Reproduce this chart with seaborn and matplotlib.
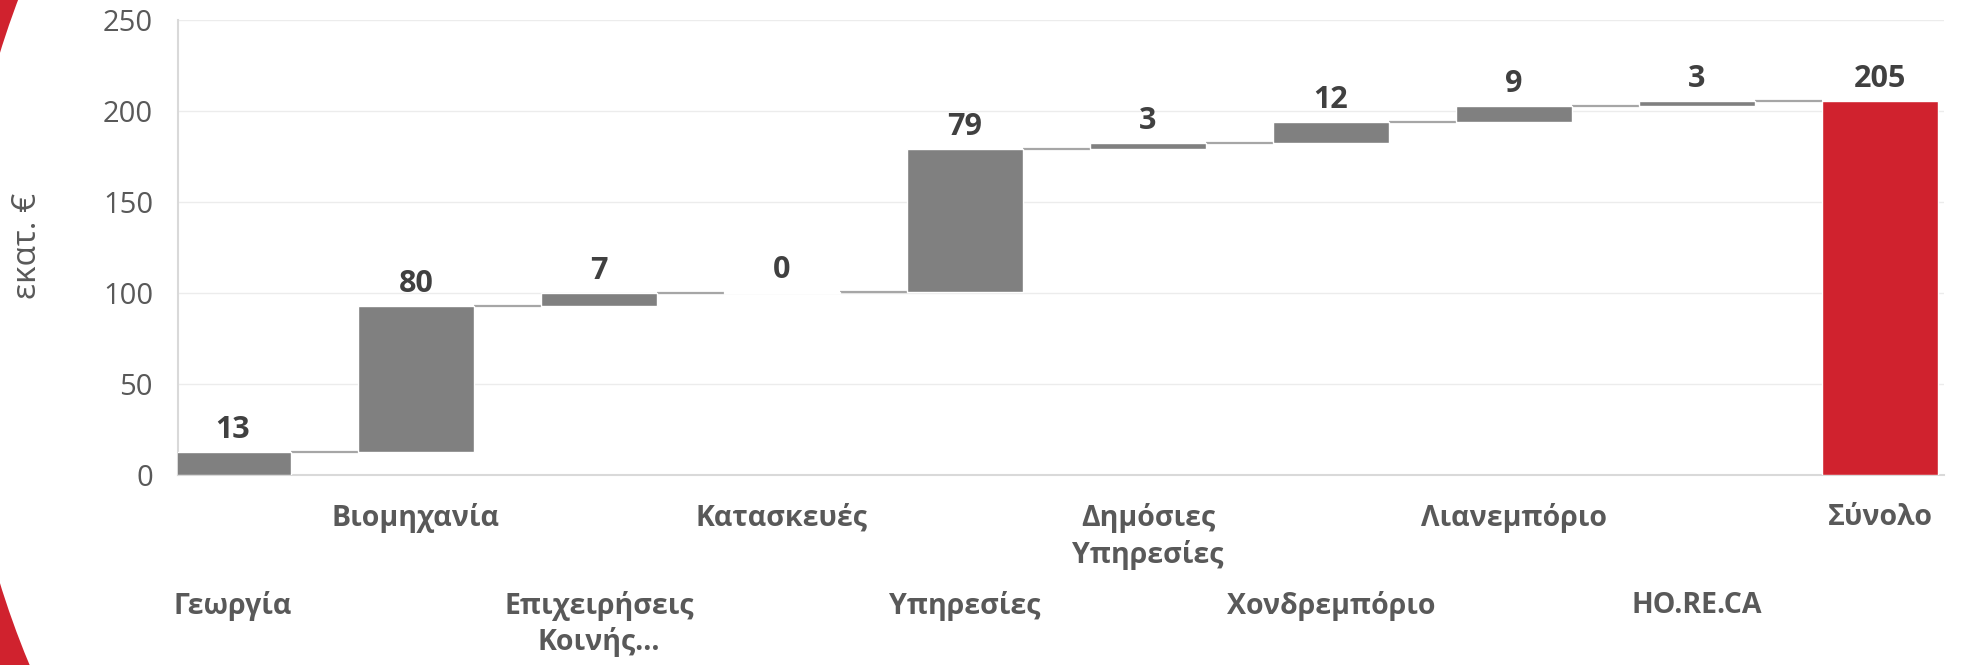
import matplotlib
matplotlib.use('Agg')
import matplotlib.pyplot as plt
import matplotlib.transforms as mtransforms
from matplotlib.patches import Ellipse, Rectangle
import numpy as np
import pandas as pd
import seaborn as sns

# waterfall data (εκατ. €)
sectors = ['Γεωργία', 'Βιομηχανία', 'Επιχειρήσεις\nΚοινής...', 'Κατασκευές', 'Υπηρεσίες',
           'Δημόσιες\nΥπηρεσίες', 'Χονδρεμπόριο', 'Λιανεμπόριο', 'HO.RE.CA', 'Σύνολο']
contributions = [12.8, 80.2, 7.0, 0.4, 78.8, 3.2, 11.6, 8.6, 2.8]

GREY = '#808080'
RED = '#d0222e'
TEXT = '#595959'
LABEL = '#404040'

tops = np.cumsum(contributions)
total = tops[-1]
heights = contributions + [total]
bottoms = list(np.concatenate([[0], tops[:-1]])) + [0]
labels = [f'{v:.0f}' for v in heights]

df = pd.DataFrame({'sector': sectors, 'height': heights})

sns.set_style('white')
plt.rcParams['font.family'] = ['Open Sans', 'DejaVu Sans']

fig = plt.figure(figsize=(19.69, 6.65), dpi=100)
ax = fig.add_axes([0.0904, 0.2857, 0.8969, 0.6843])

# red decoration on the left edge
fig.patches.append(Rectangle((0, 0), 0.05, 1, transform=fig.transFigure,
                             facecolor=RED, edgecolor='none', zorder=-10))
fig.patches.append(Ellipse((860 / 1969, 1 - 318 / 665), 1800 / 1969, 1800 / 665,
                           transform=fig.transFigure, facecolor='white',
                           edgecolor='none', zorder=-9))
ax.set_facecolor('none')

BAR_W = 0.63
sns.barplot(data=df, x='sector', y='height', bottom=bottoms, color=GREY,
            saturation=1, width=BAR_W, ax=ax, zorder=3)
ax.patches[-1].set_facecolor(RED)

# connector lines between bars
for i in range(len(sectors) - 1):
    level = tops[i] if i < len(tops) else total
    ax.plot([i + BAR_W / 2, i + 1 - BAR_W / 2], [level, level],
            color='#a6a6a6', lw=1.6, zorder=2, solid_capstyle='butt')

# value labels
for i, (b, h) in enumerate(zip(bottoms, heights)):
    ax.annotate(labels[i], (i, b + h), xytext=(0, 5), textcoords='offset points',
                ha='center', va='bottom', fontsize=22, fontweight='bold', color=LABEL)

ax.set_ylim(0, 250)
ax.set_yticks(range(0, 251, 50))
ax.set_xlim(-0.30, 9.35)
ax.yaxis.grid(True, color='#ececec', lw=1)
ax.set_axisbelow(True)
for side in ['top', 'right']:
    ax.spines[side].set_visible(False)
for side in ['left', 'bottom']:
    ax.spines[side].set_color('#d9d9d9')
    ax.spines[side].set_linewidth(1.5)
ax.tick_params(axis='y', length=0, pad=18, labelsize=21, labelcolor=TEXT)
ax.set_xticks(range(len(sectors)))
ax.set_xticklabels([])
ax.tick_params(axis='x', length=0)
ax.set_xlabel('')
ax.set_ylabel('εκατ. €', fontsize=24, color=TEXT)
ax.yaxis.set_label_coords(44 / 1969, 1 - 246 / 665, transform=fig.transFigure)

# staggered category labels
trans = mtransforms.blended_transform_factory(ax.transData, fig.transFigure)
for i, name in enumerate(sectors):
    y = 0.243 if i % 2 == 1 else 0.112
    ax.text(i, y, name, transform=trans, ha='center', va='top', fontsize=20.5,
            fontweight='bold', color=TEXT, linespacing=1.3)

fig.savefig('out.png', dpi=100)
